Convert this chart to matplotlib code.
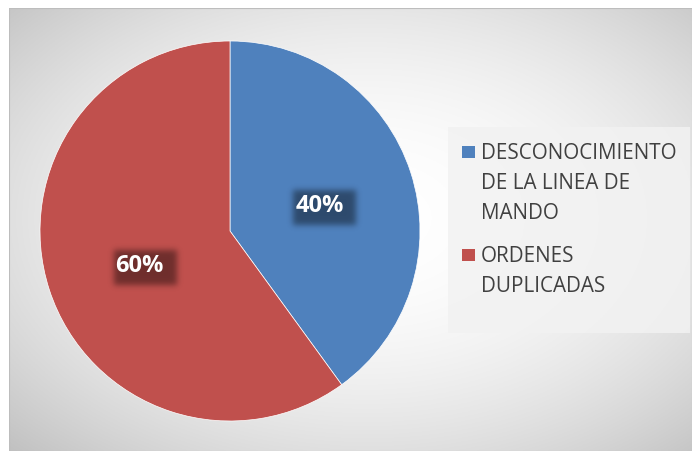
import numpy as np
import matplotlib.pyplot as plt
import matplotlib.patches as mpatches

# datos del grafico
categorias = ['DESCONOCIMIENTO\nDE LA LINEA DE\nMANDO', 'ORDENES\nDUPLICADAS']
valores = [40, 60]
colores = ['#4f81bd', '#c0504d']

W, H = 692, 452
R_PX = 190  # radio del pastel en pixeles
fig = plt.figure(figsize=(W / 100, H / 100), dpi=100)
fig.patch.set_facecolor('white')

# fondo con degradado radial
bg = fig.add_axes([9 / W, 0, (W - 9) / W, (H - 9) / H])
xx, yy = np.meshgrid(np.linspace(-1, 1, 400), np.linspace(-1, 1, 260))
r = np.sqrt(((xx - 0.05) / 1.0) ** 2 + ((yy + 0.05) / 1.0) ** 2) / 1.41
gris = 1.0 - 0.22 * np.clip(r, 0, 1.2) ** 2
bg.imshow(np.dstack([gris, gris, gris]), aspect='auto', extent=[0, 1, 0, 1])
bg.set_xlim(0, 1)
bg.set_ylim(0, 1)
bg.axis('off')
bg.add_patch(mpatches.Rectangle((0, 0), 1, 1, transform=bg.transAxes, fill=False,
                                edgecolor='#bdbdbd', linewidth=0.8))

# pastel
ax = fig.add_axes([40 / W, 30 / H, 2 * R_PX / W, 2 * R_PX / H])
wedges, _ = ax.pie(valores, colors=colores, startangle=90, counterclock=False,
                   radius=1, wedgeprops=dict(edgecolor='white', linewidth=0.5))
ax.set_xlim(-1, 1)
ax.set_ylim(-1, 1)
ax.set_aspect('equal')


def sombra_difusa(ax, x, y, izq=-26, der=37, arr=-13, aba=22, sigma=3.0, alfa=0.42):
    # rectangulo negro difuminado detras de la etiqueta (medidas en pixeles)
    m = int(4 * sigma)
    w, h = der - izq + 2 * m, aba - arr + 2 * m
    mask = np.zeros((h, w))
    mask[m:h - m, m:w - m] = 1.0
    k = np.arange(-m, m + 1)
    g = np.exp(-k ** 2 / (2 * sigma ** 2))
    g /= g.sum()
    mask = np.apply_along_axis(lambda f: np.convolve(f, g, mode='same'), 0, mask)
    mask = np.apply_along_axis(lambda f: np.convolve(f, g, mode='same'), 1, mask)
    img = np.zeros((h, w, 4))
    img[..., 3] = mask * alfa
    ext = [x + (izq - m) / R_PX, x + (der + m) / R_PX,
           y - (aba + m) / R_PX, y - (arr - m) / R_PX]
    ax.imshow(img, extent=ext, origin='upper', zorder=3, interpolation='bilinear')


pos_etiquetas = [(0.471, 0.15), (-0.476, -0.166)]
for v, (x, y) in zip(valores, pos_etiquetas):
    sombra_difusa(ax, x, y)
    # linea base a media altura de los digitos por debajo del centro
    ax.text(x, y - 8.5 / R_PX, f'{v}%', ha='center', va='baseline', fontsize=17,
            fontweight='bold', family='Open Sans', color='white', zorder=4)
ax.set_xlim(-1, 1)
ax.set_ylim(-1, 1)

# leyenda dibujada a mano
fig.patches.append(mpatches.Rectangle((448 / W, 1 - 334 / H), 242 / W, 206 / H,
                                      transform=fig.transFigure, facecolor='#f2f2f2',
                                      edgecolor='none', alpha=0.85, zorder=1))
tops = [145, 248]
for cat, c, t in zip(categorias, colores, tops):
    fig.patches.append(mpatches.Rectangle((462 / W, 1 - (t + 14) / H), 13 / W, 12 / H,
                                          transform=fig.transFigure, facecolor=c,
                                          edgecolor='none', zorder=2))
    fig.text(481 / W, 1 - (t - 2) / H, cat, ha='left', va='top', fontsize=14.9,
             family='Open Sans', color='#404040', linespacing=1.57, zorder=3)

fig.savefig('out.png', dpi=100)
